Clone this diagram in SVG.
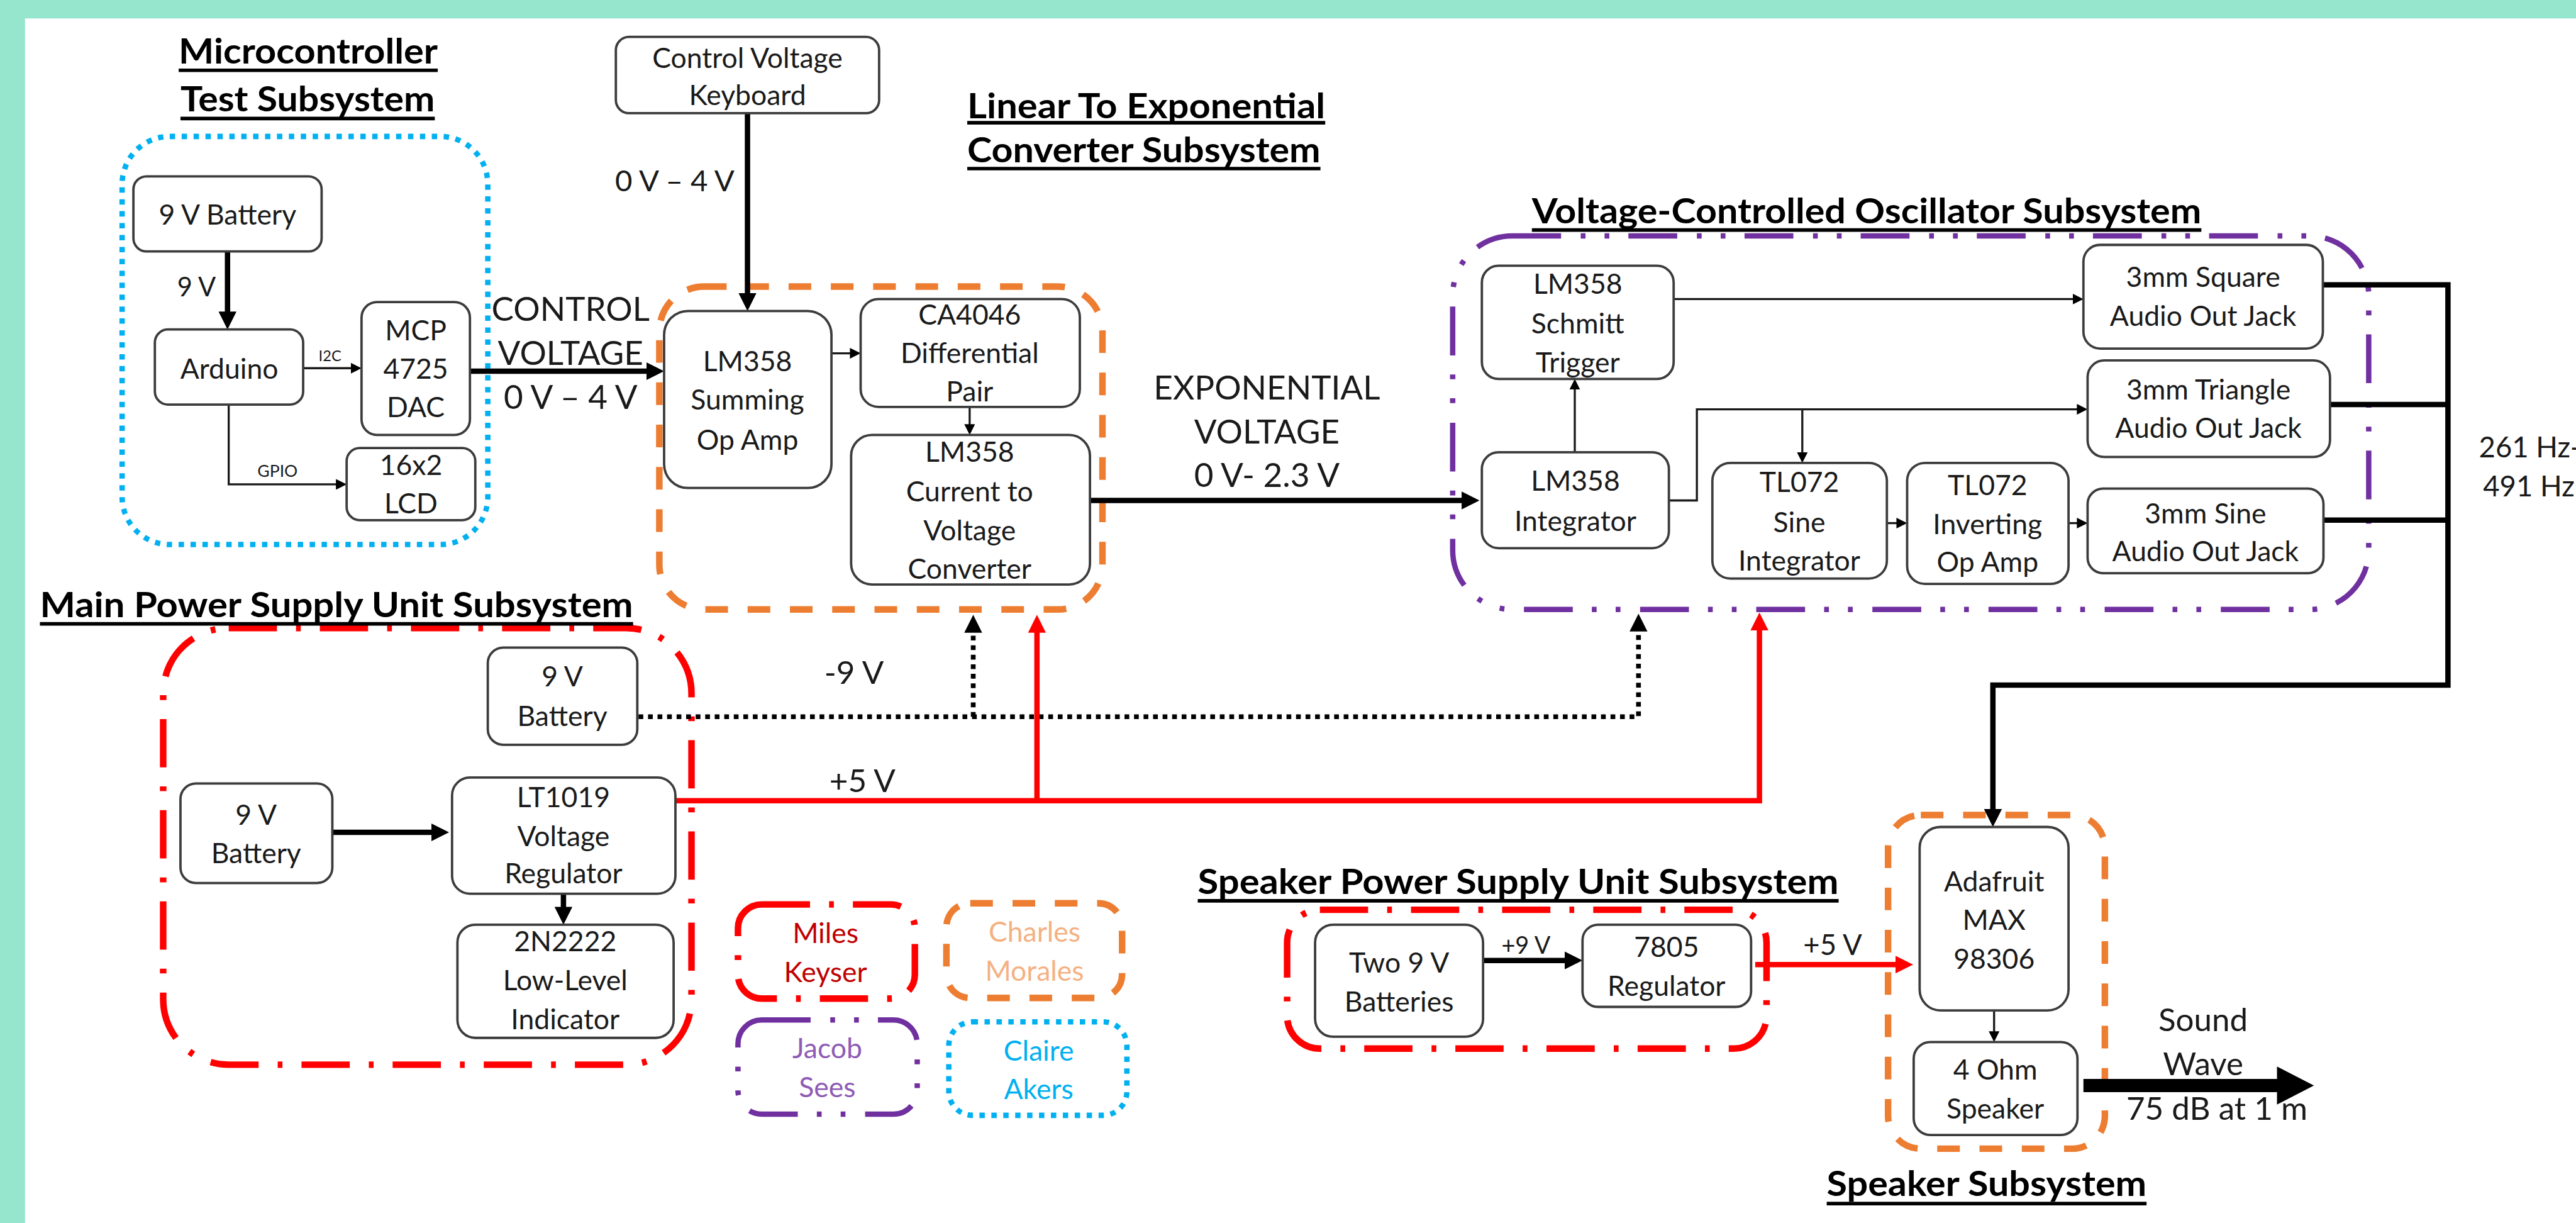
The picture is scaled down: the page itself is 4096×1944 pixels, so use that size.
<svg xmlns="http://www.w3.org/2000/svg" width="4096" height="1944" viewBox="0 0 4096 1944">
<style>
.box{fill:#fff;stroke:#3c3c3c;stroke-width:4}
.n{font-family:Lato,'Liberation Sans',sans-serif;font-size:47px;fill:#1a1a1a;text-anchor:middle}
.lb{font-family:Lato,'Liberation Sans',sans-serif;fill:#1a1a1a;text-anchor:middle}
.st{text-anchor:start}
.t{font-family:Lato,'Liberation Sans',sans-serif;font-weight:700;font-size:58px;fill:#000}
.ul{stroke:#000;stroke-width:6}
.thin{fill:none;stroke:#1a1a1a;stroke-width:3.5}
.thick{fill:none;stroke:#000;stroke-width:9}
.red{fill:none;stroke:#FF0000;stroke-width:9}
.dot{fill:none;stroke:#000;stroke-width:8;stroke-dasharray:8 8}
.cBlue{fill:none;stroke:#00B0F0;stroke-width:9;stroke-dasharray:9 11}
.cOrange{fill:none;stroke:#ED7D31;stroke-width:11;stroke-dasharray:38 33}
.cPurple{fill:none;stroke:#7030A0;stroke-width:9;stroke-dasharray:82 33 8 32 8 32}
.cRed{fill:none;stroke:#FF0000;stroke-width:11;stroke-dasharray:81 32 8 32}
</style>
<defs>
<marker id="ah" viewBox="0 0 30 30" refX="10" refY="15" markerWidth="30" markerHeight="30" markerUnits="userSpaceOnUse" orient="auto"><path d="M0,0L30,15L0,30z" fill="#000"/></marker>
<marker id="ahr" viewBox="0 0 30 30" refX="10" refY="15" markerWidth="30" markerHeight="30" markerUnits="userSpaceOnUse" orient="auto"><path d="M0,0L30,15L0,30z" fill="#FF0000"/></marker>
<marker id="at" viewBox="0 0 18 18" refX="6" refY="9" markerWidth="18" markerHeight="18" markerUnits="userSpaceOnUse" orient="auto"><path d="M0,0L18,9L0,18z" fill="#000"/></marker>
</defs>
<rect x="0" y="0" width="4096" height="1944" fill="#96E6CE"/>
<g transform="scale(0.94705)">
<rect x="42" y="31" width="4300" height="2040" fill="#fff"/>

<!-- containers -->
<g id="containers">
<rect id="mc-container" class="cBlue" x="205" y="229" width="614" height="685" rx="80"/>
<rect id="lte-container" class="cOrange" x="1107" y="481" width="744" height="542" rx="75"/>
<rect id="vco-container" class="cPurple" x="2439" y="396" width="1538" height="627" rx="100"/>
<rect id="mpsu-container" class="cRed" x="274" y="1054" width="887" height="733" rx="110"/>
<rect id="spsu-container" class="cRed" x="2161" y="1527" width="805" height="233" rx="55"/>
<rect id="spk-container" class="cOrange" x="3170" y="1368" width="364" height="560" rx="55"/>
</g>

<!-- titles -->
<g id="titles">
<text class="t" x="300" y="107" textLength="435" lengthAdjust="spacingAndGlyphs">Microcontroller</text>
<line class="ul" x1="300" y1="118" x2="735" y2="118"/>
<text class="t" x="303" y="187" textLength="427" lengthAdjust="spacingAndGlyphs">Test Subsystem</text>
<line class="ul" x1="303" y1="199" x2="730" y2="199"/>
<text class="t" x="1624" y="199" textLength="601" lengthAdjust="spacingAndGlyphs">Linear To Exponential</text>
<line class="ul" x1="1624" y1="206" x2="2225" y2="206"/>
<text class="t" x="1624" y="272" textLength="593" lengthAdjust="spacingAndGlyphs">Converter Subsystem</text>
<line class="ul" x1="1624" y1="283" x2="2217" y2="283"/>
<text class="t" x="2572" y="375" textLength="1124" lengthAdjust="spacingAndGlyphs">Voltage-Controlled Oscillator Subsystem</text>
<line class="ul" x1="2572" y1="386" x2="3696" y2="386"/>
<text class="t" x="67" y="1036" textLength="996" lengthAdjust="spacingAndGlyphs">Main Power Supply Unit Subsystem</text>
<line class="ul" x1="67" y1="1047" x2="1063" y2="1047"/>
<text class="t" x="2011" y="1500" textLength="1076" lengthAdjust="spacingAndGlyphs">Speaker Power Supply Unit Subsystem</text>
<line class="ul" x1="2011" y1="1512" x2="3087" y2="1512"/>
<text class="t" x="3067" y="2007" textLength="537" lengthAdjust="spacingAndGlyphs">Speaker Subsystem</text>
<line class="ul" x1="3067" y1="2020" x2="3604" y2="2020"/>
</g>

<!-- connectors -->
<g id="connectors">
<path class="thick" d="M382,422V533" marker-end="url(#ah)"/>
<path class="thin" d="M509,618H595" marker-end="url(#at)"/>
<path class="thin" d="M384,679V813H570" marker-end="url(#at)"/>
<path class="thick" d="M789,623H1095" marker-end="url(#ah)"/>
<path class="thick" d="M1255,190V502" marker-end="url(#ah)"/>
<path class="thin" d="M1396,593H1433" marker-end="url(#at)"/>
<path class="thin" d="M1628,683V718" marker-end="url(#at)"/>
<path class="thick" d="M1777,840H2464" marker-end="url(#ah)"/>
<path class="dot" d="M1072,1203H2751V1050" marker-end="url(#ah)"/>
<path class="dot" d="M1634,1203V1052" marker-end="url(#ah)"/>
<path class="red" d="M1134,1344H2954V1048" marker-end="url(#ahr)"/>
<path class="red" d="M1741,1344V1052" marker-end="url(#ahr)"/>
<path class="thick" d="M558,1397H734" marker-end="url(#ah)"/>
<path class="thick" d="M946,1500V1532" marker-end="url(#ah)"/>
<path class="thin" d="M2810,502H3486" marker-end="url(#at)"/>
<path class="thin" d="M2644,759V648" marker-end="url(#at)"/>
<path class="thin" d="M2802,840H2849V687H3493" marker-end="url(#at)"/>
<path class="thin" d="M3026,687V765" marker-end="url(#at)"/>
<path class="thin" d="M3168,878H3190" marker-end="url(#at)"/>
<path class="thin" d="M3473,878H3493" marker-end="url(#at)"/>
<path class="thick" d="M3900,478H4110V1150H3346V1368" marker-end="url(#ah)"/>
<path class="thick" d="M3912,679H4110"/>
<path class="thick" d="M3901,873H4110"/>
<path class="thick" d="M2490,1612H2637" marker-end="url(#ah)"/>
<path class="red" d="M2947,1619H3192" marker-end="url(#ahr)"/>
<path class="thin" d="M3348,1696V1737" marker-end="url(#at)"/>
<path d="M3498,1822H3830" stroke="#000" stroke-width="22" fill="none"/>
<polygon points="3823,1790 3885,1822 3823,1854" fill="#000"/>
<!-- connector labels -->
<text class="lb" x="330" y="497" font-size="44">9 V</text>
<text class="lb" x="554" y="606" font-size="25" fill="#333">I2C</text>
<text class="lb" x="466" y="800" font-size="28" fill="#333">GPIO</text>
<text class="lb" x="958" y="538" font-size="56">CONTROL</text>
<text class="lb" x="958" y="612" font-size="56">VOLTAGE</text>
<text class="lb" x="958" y="686" font-size="56">0 V – 4 V</text>
<text class="lb" x="1133" y="321" font-size="50">0 V – 4 V</text>
<text class="lb" x="2127" y="670" font-size="56">EXPONENTIAL</text>
<text class="lb" x="2127" y="744" font-size="56">VOLTAGE</text>
<text class="lb" x="2127" y="817" font-size="56">0 V- 2.3 V</text>
<text class="lb" x="1434" y="1148" font-size="54">-9 V</text>
<text class="lb" x="1448" y="1329" font-size="54">+5 V</text>
<text class="lb" x="2562" y="1601" font-size="40">+9 V</text>
<text class="lb" x="3077" y="1603" font-size="48">+5 V</text>
<text class="lb st" x="4162" y="768" font-size="48">261 Hz-</text>
<text class="lb st" x="4169" y="833" font-size="48">491 Hz</text>
<text class="lb" x="3699" y="1731" font-size="54">Sound</text>
<text class="lb" x="3699" y="1805" font-size="54">Wave</text>
<text class="lb" x="3722" y="1879" font-size="54">75 dB at 1 m</text>
</g>

<!-- nodes -->
<g id="mc-battery"><rect class="box" x="224" y="296" width="316" height="126" rx="22"/><text class="n" x="382" y="377">9 V Battery</text></g>
<g id="arduino"><rect class="box" x="260" y="553" width="249" height="126" rx="22"/><text class="n" x="385" y="636">Arduino</text></g>
<g id="mcp4725"><rect class="box" x="607" y="507" width="182" height="223" rx="26"/><text class="n" x="698" y="571">MCP</text><text class="n" x="698" y="636">4725</text><text class="n" x="698" y="700">DAC</text></g>
<g id="lcd"><rect class="box" x="582" y="752" width="216" height="121" rx="22"/><text class="n" x="690" y="797">16x2</text><text class="n" x="690" y="862">LCD</text></g>
<g id="keyboard"><rect class="box" x="1034" y="62" width="442" height="128" rx="22"/><text class="n" x="1255" y="114">Control Voltage</text><text class="n" x="1255" y="176">Keyboard</text></g>
<g id="summing"><rect class="box" x="1115" y="522" width="281" height="297" rx="40"/><text class="n" x="1255" y="623">LM358</text><text class="n" x="1255" y="687">Summing</text><text class="n" x="1255" y="755">Op Amp</text></g>
<g id="ca4046"><rect class="box" x="1445" y="502" width="368" height="181" rx="30"/><text class="n" x="1628" y="545">CA4046</text><text class="n" x="1628" y="609">Differential</text><text class="n" x="1628" y="674">Pair</text></g>
<g id="current"><rect class="box" x="1429" y="730" width="401" height="251" rx="35"/><text class="n" x="1628" y="775">LM358</text><text class="n" x="1628" y="842">Current to</text><text class="n" x="1628" y="907">Voltage</text><text class="n" x="1628" y="971">Converter</text></g>
<g id="schmitt"><rect class="box" x="2488" y="446" width="322" height="190" rx="28"/><text class="n" x="2649" y="493">LM358</text><text class="n" x="2649" y="560">Schmitt</text><text class="n" x="2649" y="625">Trigger</text></g>
<g id="square"><rect class="box" x="3498" y="411" width="402" height="174" rx="28"/><text class="n" x="3699" y="482">3mm Square</text><text class="n" x="3699" y="547">Audio Out Jack</text></g>
<g id="triangle"><rect class="box" x="3505" y="605" width="407" height="162" rx="28"/><text class="n" x="3708" y="670">3mm Triangle</text><text class="n" x="3708" y="735">Audio Out Jack</text></g>
<g id="integrator"><rect class="box" x="2488" y="759" width="314" height="161" rx="28"/><text class="n" x="2645" y="824">LM358</text><text class="n" x="2645" y="891">Integrator</text></g>
<g id="sine-int"><rect class="box" x="2875" y="777" width="293" height="194" rx="30"/><text class="n" x="3021" y="826">TL072</text><text class="n" x="3021" y="893">Sine</text><text class="n" x="3021" y="958">Integrator</text></g>
<g id="inverting"><rect class="box" x="3202" y="777" width="271" height="203" rx="30"/><text class="n" x="3337" y="831">TL072</text><text class="n" x="3337" y="896">Inverting</text><text class="n" x="3337" y="960">Op Amp</text></g>
<g id="sine-jack"><rect class="box" x="3505" y="820" width="396" height="142" rx="26"/><text class="n" x="3703" y="878">3mm Sine</text><text class="n" x="3703" y="942">Audio Out Jack</text></g>
<g id="mpsu-battery1"><rect class="box" x="819" y="1087" width="251" height="163" rx="26"/><text class="n" x="944" y="1152">9 V</text><text class="n" x="944" y="1219">Battery</text></g>
<g id="mpsu-battery2"><rect class="box" x="303" y="1315" width="255" height="167" rx="26"/><text class="n" x="430" y="1384">9 V</text><text class="n" x="430" y="1449">Battery</text></g>
<g id="lt1019"><rect class="box" x="759" y="1305" width="375" height="195" rx="30"/><text class="n" x="946" y="1355">LT1019</text><text class="n" x="946" y="1420">Voltage</text><text class="n" x="946" y="1482">Regulator</text></g>
<g id="n2n2222"><rect class="box" x="768" y="1552" width="363" height="190" rx="30"/><text class="n" x="949" y="1597">2N2222</text><text class="n" x="949" y="1662">Low-Level</text><text class="n" x="949" y="1727">Indicator</text></g>
<g id="legend-miles"><rect class="cRed" x="1239" y="1518" width="297" height="158" rx="40"/><text class="n" x="1386" y="1583" style="fill:#C00000">Miles</text><text class="n" x="1386" y="1648" style="fill:#C00000">Keyser</text></g>
<g id="legend-charles"><rect class="cOrange" x="1589" y="1516" width="295" height="159" rx="40"/><text class="n" x="1737" y="1581" style="fill:#F4B183">Charles</text><text class="n" x="1737" y="1646" style="fill:#F4B183">Morales</text></g>
<g id="legend-jacob"><rect class="cPurple" x="1239" y="1712" width="301" height="158" rx="40"/><text class="n" x="1389" y="1776" style="fill:#8E5BB5">Jacob</text><text class="n" x="1389" y="1841" style="fill:#8E5BB5">Sees</text></g>
<g id="legend-claire"><rect class="cBlue" x="1593" y="1715" width="299" height="157" rx="40"/><text class="n" x="1744" y="1780" style="fill:#00B0F0">Claire</text><text class="n" x="1744" y="1845" style="fill:#00B0F0">Akers</text></g>
<g id="two9v"><rect class="box" x="2208" y="1552" width="282" height="188" rx="30"/><text class="n" x="2349" y="1632">Two 9 V</text><text class="n" x="2349" y="1698">Batteries</text></g>
<g id="r7805"><rect class="box" x="2657" y="1552" width="283" height="138" rx="26"/><text class="n" x="2798" y="1606">7805</text><text class="n" x="2798" y="1671">Regulator</text></g>
<g id="adafruit"><rect class="box" x="3223" y="1388" width="250" height="308" rx="35"/><text class="n" x="3348" y="1496">Adafruit</text><text class="n" x="3348" y="1561">MAX</text><text class="n" x="3348" y="1626">98306</text></g>
<g id="speaker"><rect class="box" x="3213" y="1749" width="275" height="156" rx="28"/><text class="n" x="3350" y="1812">4 Ohm</text><text class="n" x="3350" y="1877">Speaker</text></g>
</g>
</svg>
